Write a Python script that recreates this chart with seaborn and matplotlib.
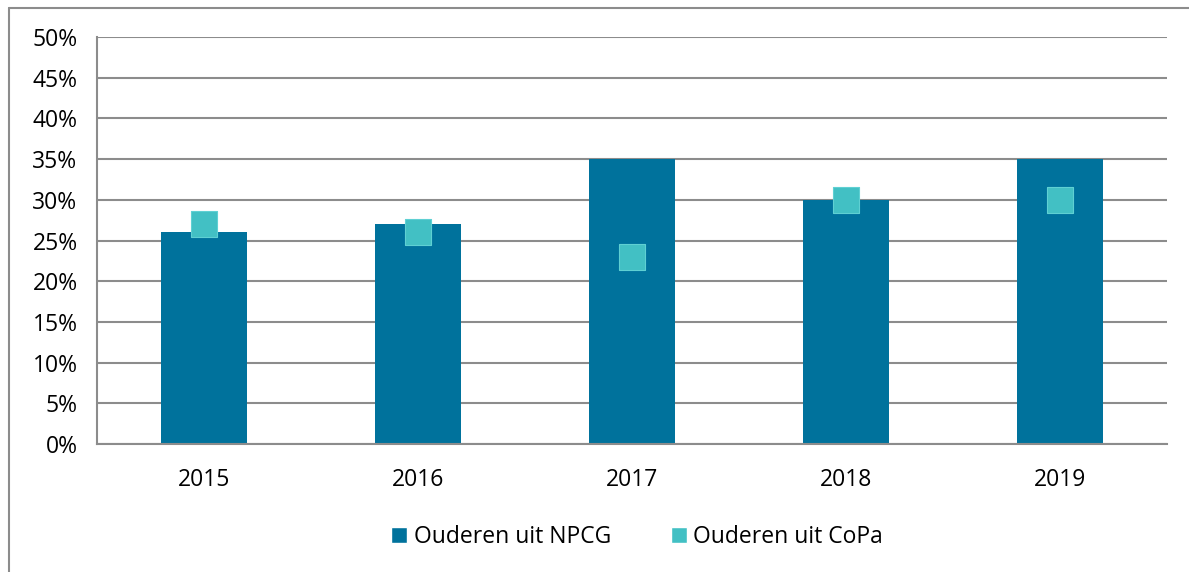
import matplotlib
matplotlib.use('Agg')
import matplotlib.pyplot as plt
from matplotlib.lines import Line2D
from matplotlib.patches import Patch
from matplotlib.ticker import PercentFormatter, FixedLocator
import pandas as pd
import seaborn as sns

years = ['2015', '2016', '2017', '2018', '2019']
npcg = [26, 27, 35, 30, 35]
copa = [27, 26, 23, 30, 30]

bar_color = '#00729C'
marker_color = '#42C0C4'
grid_color = '#8C8C8C'

df = pd.DataFrame({'jaar': years, 'npcg': npcg, 'copa': copa})

sns.set_style('white')
plt.rcParams['font.family'] = ['Open Sans', 'DejaVu Sans']
plt.rcParams['text.color'] = 'black'
plt.rcParams['xtick.labelcolor'] = 'black'
plt.rcParams['ytick.labelcolor'] = 'black'

fig = plt.figure(figsize=(11.89, 5.72), dpi=100)
ax = fig.add_axes([97 / 1189, 1 - 444 / 572, (1167 - 97) / 1189, (444 - 37) / 572])

sns.barplot(data=df, x='jaar', y='npcg', color=bar_color, width=0.4,
            saturation=1, linewidth=0, ax=ax, zorder=2)
sns.stripplot(data=df, x='jaar', y='copa', color=marker_color, marker='s',
              size=18.5, jitter=False, linewidth=0.8, edgecolor='#5FD0D3',
              ax=ax, zorder=3)

ax.set_xlim(-0.5, 4.5)
ax.set_ylim(0, 50)
ax.set_yticks(range(0, 51, 5))
ax.yaxis.set_major_formatter(PercentFormatter(decimals=0))
ax.set_xlabel('')
ax.set_ylabel('')

ax.grid(axis='y', color=grid_color, linewidth=1.5, zorder=0)
ax.set_axisbelow(True)
for side in ['top', 'right']:
    ax.spines[side].set_visible(False)
for side in ['left', 'bottom']:
    ax.spines[side].set_color(grid_color)
    ax.spines[side].set_linewidth(1.5)

ax.tick_params(axis='y', length=9, width=1.5, color=grid_color, labelsize=16.5, pad=5)
ax.tick_params(axis='x', which='major', length=0, labelsize=16.5, pad=17)
ax.xaxis.set_minor_locator(FixedLocator([-0.5, 0.5, 1.5, 2.5, 3.5, 4.5]))
ax.tick_params(axis='x', which='minor', length=9, width=1.5, color=grid_color)

handles = [Patch(facecolor=bar_color, label='Ouderen uit NPCG'),
           Patch(facecolor=marker_color, label='Ouderen uit CoPa')]
fig.legend(handles=handles, loc='center', bbox_to_anchor=(637 / 1189, 1 - 537 / 572),
           ncol=2, frameon=False, fontsize=16.5, handlelength=0.7, handleheight=0.7,
           handletextpad=0.3, columnspacing=2.6)

fig.add_artist(Line2D([9 / 1189, 1], [1 - 8 / 572, 1 - 8 / 572], color=grid_color, linewidth=1.5))
fig.add_artist(Line2D([9 / 1189, 9 / 1189], [0, 1 - 8 / 572], color=grid_color, linewidth=1.5))

fig.savefig('out.png', dpi=100)
